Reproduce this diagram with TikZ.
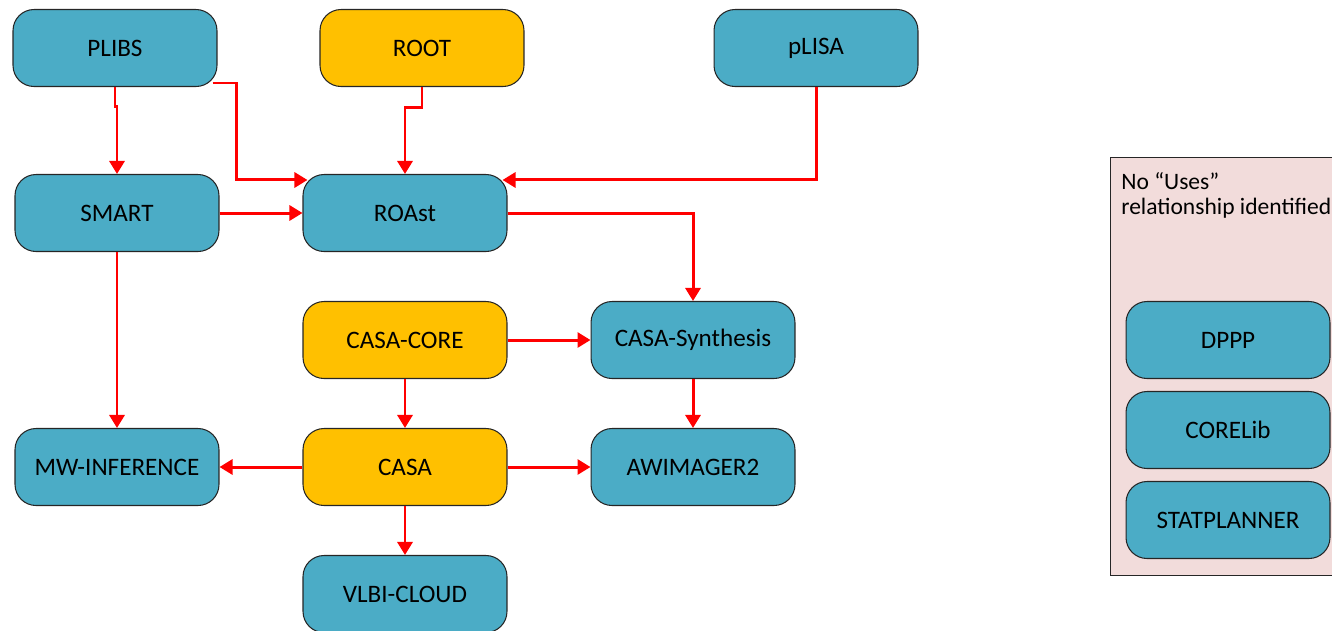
\documentclass[tikz,border=0pt]{standalone}
\usepackage{fontspec}
\setmainfont{Carlito}
\usetikzlibrary{positioning}
\usetikzlibrary{arrows.meta}
\usepackage{xcolor}
\definecolor{aquaA}{HTML}{4BACC6}
\definecolor{goldA}{HTML}{FFC000}
\definecolor{roseA}{HTML}{F2DCDB}

\begin{document}
\begin{tikzpicture}[x=0.02cm, y=-0.02cm,
    blk/.style={draw=black!85, line width=0.6pt, rounded corners=0.42cm, fill=aquaA,
        minimum width=4.08cm, minimum height=1.54cm, inner sep=0pt, font=\fontsize{14.3}{17}\selectfont},
    core/.style={blk, fill=goldA},
    link/.style={-{Triangle[length=0.26cm,width=0.3cm]}, draw=red, line width=1.7pt}]
            \clip (0,0) rectangle (1332,630);
            % group without uses
            \node[draw=black!85, line width=0.7pt, fill=roseA, minimum width=4.8cm, minimum height=8.36cm,
                anchor=north west, inner sep=0pt] (grp) at (1110,157) {};
            \node[anchor=north west, align=left, inner sep=0pt, font=\fontsize{13.4}{14.2}\selectfont]
                (grptxt) at ([xshift=0.22cm,yshift=-0.3cm]grp.north west) {No “Uses”\\relationship identified};

            % top row
            \node[blk] (plibs) at (115,48) {PLIBS};
            \node[core] (root) at (422,48) {ROOT};
            \node[blk] (plisa) at (816,48) {pLISA};

            % middle rows
            \node[blk] (smart) at (117,213) {SMART};
            \node[blk] (roast) at (405,213) {ROAst};
            \node[core] (casacore) at (405,340) {CASA-CORE};
            \node[blk] (synth) at (693,340) {CASA-Synthesis};
            \node[blk] (mwinf) at (117,467) {MW-INFERENCE};
            \node[core] (casa) at (405,467) {CASA};
            \node[blk] (awim) at (693,467) {AWIMAGER2};
            \node[blk] (vlbi) at (405,594) {VLBI-CLOUD};

            % unused ones
            \node[blk] (dppp) at (1228,340) {DPPP};
            \node[blk] (corelib) at (1228,430) {CORELib};
            \node[blk] (statp) at (1228,520) {STATPLANNER};

            \draw[link] (plibs.south) -- ++(0,19) -| (smart.north);
            \draw[link] ([xshift=-0.1cm,yshift=-0.7cm]plibs.east) -- ++(24,0) |- ([xshift=0.1cm,yshift=-0.12cm]roast.north west);
            \draw[link] (root.south) -- ++(0,20) -| (roast.north);
            \draw[link] (plisa.south) |- ([xshift=-0.1cm,yshift=-0.12cm]roast.north east);
            \draw[link] (smart) -- (roast);
            \draw[link] (roast.east) -| (synth.north);
            \draw[link] (casacore) -- (synth);
            \draw[link] (casacore) -- (casa);
            \draw[link] (smart) -- (mwinf);
            \draw[link] (casa) -- (mwinf);
            \draw[link] (casa) -- (awim);
            \draw[link] (synth) -- (awim);
            \draw[link] (casa) -- (vlbi);
\end{tikzpicture}
\end{document}
